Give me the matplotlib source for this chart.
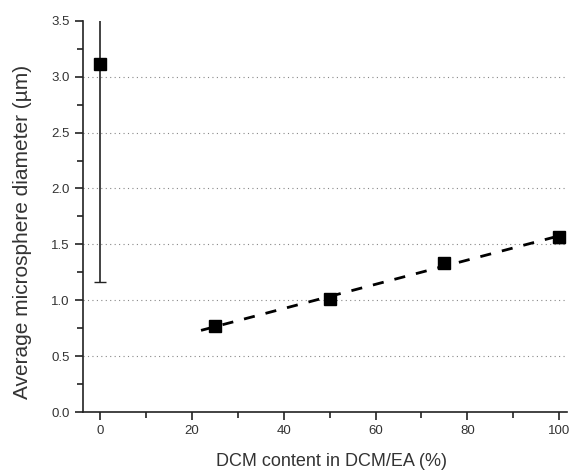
import numpy as np
import matplotlib
matplotlib.use("Agg")
import matplotlib.pyplot as plt
from matplotlib.ticker import MultipleLocator

plt.rcParams['font.family'] = ['Liberation Sans', 'DejaVu Sans']

# DCM fraction in the DCM/EA solvent (%) and mean microsphere size (um)
dcm_content = [0, 25, 50, 75, 100]
diameter = [3.11, 0.77, 1.01, 1.335, 1.565]
diameter_err = [1.95, 0.02, 0.02, 0.02, 0.05]

fig = plt.figure(figsize=(5.71, 4.71), dpi=100)
ax = fig.add_axes([0.1454, 0.125, 0.8476, 0.831])

# horizontal dotted guides
for yv in [0.5, 1.0, 1.5, 2.0, 2.5, 3.0]:
    ax.axhline(yv, color='#888888', linestyle=(0, (1, 3)), linewidth=0.8, zorder=0)

ax.errorbar(dcm_content, diameter, yerr=diameter_err, fmt='s', color='black',
            markersize=8, ecolor='#222222', elinewidth=1.2, capsize=4, zorder=3)

# linear fit through the mixed-solvent points
fit = np.polyfit(dcm_content[1:], diameter[1:], 1)
xf = np.array([22, 100])
ax.plot(xf, np.polyval(fit, xf), color='black', linestyle=(0, (4, 4)), linewidth=2, zorder=2)

ax.set_xlim(-3.7, 101.7)
ax.set_ylim(0, 3.5)
ax.xaxis.set_major_locator(MultipleLocator(20))
ax.xaxis.set_minor_locator(MultipleLocator(10))
ax.yaxis.set_major_locator(MultipleLocator(0.5))
ax.yaxis.set_minor_locator(MultipleLocator(0.25))
ax.yaxis.set_major_formatter(plt.FormatStrFormatter('%.1f'))

for s in ['top', 'right']:
    ax.spines[s].set_visible(False)
for s in ['left', 'bottom']:
    ax.spines[s].set_linewidth(1.2)
    ax.spines[s].set_color('#222222')

ax.tick_params(which='major', length=6, width=1.2, colors='#222222', labelsize=9.5, labelcolor='#333333')
ax.tick_params(which='minor', length=4, width=1.2, colors='#222222')

ax.set_xlabel('DCM content in DCM/EA (%)', fontsize=13, color='#333333')
ax.set_ylabel('Average microsphere diameter (\u00b5m)', fontsize=15, color='#333333')
ax.xaxis.set_label_coords(0.514, -0.105)
ax.yaxis.set_label_coords(-0.105, 0.46)

fig.savefig('out.png', dpi=100)
